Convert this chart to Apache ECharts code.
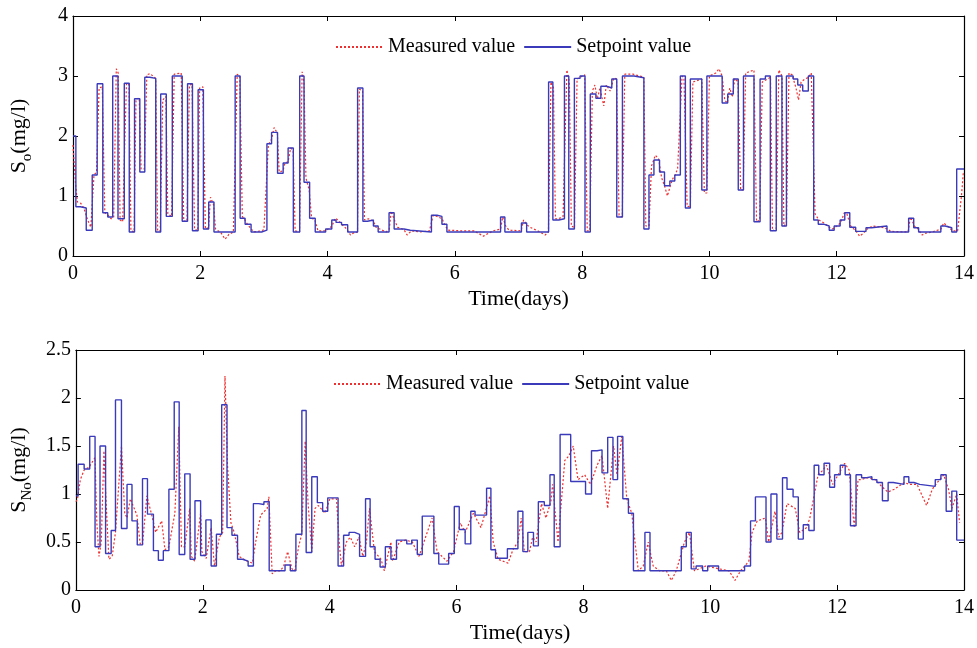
<!DOCTYPE html>
<html>
<head>
<meta charset="utf-8">
<title>So / SNo tracking</title>
<script src="https://cdn.jsdelivr.net/npm/echarts@6/dist/echarts.min.js"></script>
<style>
  html, body { margin: 0; padding: 0; background: #fff; }
  #chart { width: 977px; height: 648px; }
</style>
</head>
<body>
<div id="chart"></div>
<script>
// x ticks (days)
const dayTicks = [0, 2, 4, 6, 8, 10, 12, 14];

// S_o setpoint: [time (days), value] – value holds until next time
const soSet = [[0,2.0],[0.045,0.82],[0.115,0.80],[0.208,0.43],[0.302,1.35],[0.38,2.87],[0.468,0.72],[0.546,0.65],[0.624,3.0],[0.707,0.62],[0.806,2.88],[0.884,0.40],[0.967,2.62],[1.05,1.40],[1.128,2.98],[1.206,2.96],[1.30,0.40],[1.378,2.70],[1.466,0.66],[1.56,3.0],[1.716,0.58],[1.80,2.87],[1.877,0.42],[1.966,2.77],[2.049,0.45],[2.132,0.90],[2.215,0.40],[2.548,3.0],[2.626,0.63],[2.704,0.53],[2.798,0.40],[2.964,0.43],[3.047,1.87],[3.12,2.06],[3.214,1.38],[3.302,1.55],[3.38,1.80],[3.462,0.40],[3.562,3.0],[3.63,1.23],[3.718,0.63],[3.806,0.40],[3.97,0.45],[4.066,0.60],[4.133,0.56],[4.22,0.52],[4.316,0.40],[4.472,2.80],[4.555,0.58],[4.628,0.60],[4.72,0.50],[4.795,0.40],[4.966,0.72],[5.046,0.45],[5.20,0.43],[5.30,0.40],[5.632,0.68],[5.72,0.66],[5.797,0.53],[5.875,0.40],[6.718,0.65],[6.786,0.40],[7.046,0.55],[7.128,0.40],[7.473,2.90],[7.54,0.60],[7.633,0.62],[7.722,3.0],[7.79,0.45],[7.878,2.96],[7.967,3.0],[8.045,0.40],[8.128,2.70],[8.216,2.63],[8.294,2.83],[8.383,2.80],[8.466,2.95],[8.544,0.65],[8.633,3.0],[8.815,2.97],[8.97,0.45],[9.05,1.35],[9.128,1.60],[9.216,1.40],[9.294,1.17],[9.378,1.25],[9.456,1.35],[9.543,3.0],[9.622,0.80],[9.70,2.95],[9.88,1.10],[9.96,3.0],[10.2,2.55],[10.287,2.70],[10.375,2.95],[10.453,1.10],[10.535,3.0],[10.70,0.57],[10.796,2.95],[10.879,3.0],[10.957,0.42],[11.05,3.0],[11.139,0.50],[11.21,3.0],[11.316,2.95],[11.388,2.85],[11.466,2.75],[11.554,3.0],[11.638,0.60],[11.71,0.53],[11.794,0.50],[11.882,0.43],[11.96,0.50],[12.054,0.60],[12.127,0.72],[12.205,0.48],[12.298,0.41],[12.46,0.47],[12.548,0.50],[12.79,0.40],[13.13,0.63],[13.21,0.47],[13.287,0.40],[13.636,0.50],[13.704,0.47],[13.808,0.40],[13.885,1.45],[14.0,1.45]];

// S_o measured
const soMeas = [[0,1.85],[0.04,1.2],[0.07,0.9],[0.12,0.88],[0.17,0.8],[0.23,0.6],[0.28,0.48],[0.33,1.35],[0.37,1.4],[0.41,2.8],[0.46,2.82],[0.5,0.72],[0.55,0.68],[0.6,0.62],[0.64,0.65],[0.68,3.12],[0.71,3.05],[0.74,0.6],[0.78,0.57],[0.81,0.6],[0.84,2.88],[0.88,2.85],[0.91,0.42],[0.96,0.4],[0.99,2.62],[1.04,2.63],[1.07,1.45],[1.12,1.45],[1.16,3.02],[1.21,3.04],[1.3,2.96],[1.33,0.42],[1.37,0.42],[1.41,2.6],[1.46,2.66],[1.49,0.7],[1.55,0.66],[1.59,3.03],[1.7,3.05],[1.74,0.58],[1.79,0.58],[1.83,2.85],[1.87,2.86],[1.91,0.45],[1.96,0.42],[1.99,2.8],[2.04,2.82],[2.08,0.45],[2.13,0.47],[2.16,0.98],[2.21,0.85],[2.24,0.45],[2.28,0.42],[2.33,0.38],[2.39,0.28],[2.45,0.36],[2.52,0.4],[2.58,3.03],[2.62,3.0],[2.66,0.66],[2.7,0.6],[2.74,0.53],[2.8,0.45],[2.84,0.4],[2.96,0.42],[3.0,0.44],[3.07,1.85],[3.12,1.95],[3.16,2.14],[3.21,2.05],[3.24,1.4],[3.3,1.42],[3.33,1.55],[3.38,1.57],[3.42,1.8],[3.46,1.75],[3.49,0.42],[3.56,0.4],[3.6,3.07],[3.63,2.9],[3.66,1.3],[3.71,1.1],[3.75,0.63],[3.8,0.6],[3.85,0.42],[3.97,0.42],[4.0,0.45],[4.07,0.5],[4.12,0.63],[4.16,0.6],[4.22,0.53],[4.3,0.45],[4.36,0.35],[4.4,0.38],[4.47,0.4],[4.5,2.78],[4.55,2.75],[4.58,0.6],[4.64,0.62],[4.72,0.58],[4.76,0.48],[4.82,0.45],[4.92,0.4],[4.97,0.45],[5.0,0.75],[5.05,0.6],[5.1,0.48],[5.2,0.44],[5.25,0.35],[5.32,0.42],[5.45,0.4],[5.6,0.42],[5.66,0.68],[5.72,0.66],[5.8,0.62],[5.85,0.5],[5.9,0.43],[6.1,0.42],[6.3,0.42],[6.45,0.33],[6.6,0.42],[6.72,0.45],[6.75,0.65],[6.8,0.5],[6.85,0.43],[7.04,0.42],[7.08,0.6],[7.13,0.52],[7.18,0.48],[7.3,0.42],[7.42,0.35],[7.47,0.4],[7.51,2.9],[7.55,2.8],[7.58,0.62],[7.63,0.62],[7.7,0.66],[7.76,3.1],[7.8,2.9],[7.83,0.5],[7.88,0.47],[7.92,2.95],[8.04,3.02],[8.08,0.42],[8.12,0.42],[8.16,2.75],[8.2,2.85],[8.24,2.62],[8.28,2.8],[8.34,2.5],[8.38,2.85],[8.44,2.75],[8.5,2.97],[8.54,2.95],[8.58,0.68],[8.63,0.65],[8.67,3.03],[8.8,3.03],[8.97,2.98],[9.0,0.5],[9.05,0.5],[9.09,1.5],[9.15,1.68],[9.2,1.62],[9.25,1.3],[9.3,1.15],[9.34,1.0],[9.38,1.15],[9.42,1.28],[9.46,1.35],[9.5,1.45],[9.57,3.0],[9.6,2.95],[9.65,0.83],[9.7,0.82],[9.74,2.9],[9.88,2.95],[9.92,1.05],[9.96,1.05],[10.0,3.0],[10.1,3.05],[10.15,3.12],[10.2,3.0],[10.24,2.6],[10.28,2.55],[10.32,2.8],[10.36,2.65],[10.4,2.96],[10.45,2.9],[10.49,1.1],[10.53,1.1],[10.57,3.05],[10.7,3.1],[10.74,0.57],[10.79,0.6],[10.83,2.9],[10.96,2.98],[10.99,0.42],[11.05,0.45],[11.09,3.1],[11.14,3.0],[11.17,0.5],[11.21,0.55],[11.25,3.05],[11.3,3.02],[11.36,2.8],[11.4,2.6],[11.44,2.9],[11.5,2.95],[11.56,2.98],[11.6,3.05],[11.66,0.7],[11.72,0.6],[11.8,0.55],[11.88,0.48],[11.93,0.45],[11.98,0.48],[12.06,0.55],[12.12,0.72],[12.16,0.7],[12.22,0.5],[12.3,0.42],[12.36,0.33],[12.42,0.38],[12.48,0.45],[12.56,0.5],[12.7,0.48],[12.8,0.45],[12.85,0.41],[13.12,0.4],[13.16,0.65],[13.22,0.5],[13.28,0.45],[13.34,0.35],[13.4,0.38],[13.5,0.4],[13.64,0.45],[13.68,0.55],[13.74,0.5],[13.82,0.42],[13.9,0.42],[13.96,1.0],[13.99,1.4]];

// S_No setpoint
const snoSet = [[0,0.98],[0.035,1.31],[0.13,1.26],[0.218,1.60],[0.302,0.45],[0.38,1.50],[0.468,0.38],[0.556,0.62],[0.624,1.98],[0.718,0.64],[0.806,1.10],[0.884,0.72],[0.967,0.47],[1.05,1.16],[1.128,0.79],[1.222,0.41],[1.30,0.31],[1.378,0.41],[1.466,1.05],[1.55,1.96],[1.628,0.37],[1.716,1.21],[1.80,0.32],[1.877,0.93],[1.966,0.36],[2.049,0.73],[2.132,0.25],[2.215,0.58],[2.298,1.93],[2.382,0.65],[2.46,0.57],[2.548,0.32],[2.626,0.30],[2.715,0.25],[2.798,0.90],[2.881,0.89],[2.964,0.92],[3.047,0.20],[3.297,0.26],[3.38,0.20],[3.468,0.58],[3.562,1.87],[3.63,0.39],[3.718,1.18],[3.806,0.91],[3.89,0.82],[3.97,0.96],[4.133,0.25],[4.22,0.57],[4.306,0.60],[4.394,0.58],[4.472,0.35],[4.566,0.95],[4.638,0.45],[4.716,0.32],[4.795,0.24],[4.878,0.45],[4.966,0.32],[5.054,0.52],[5.216,0.48],[5.294,0.52],[5.382,0.37],[5.46,0.77],[5.643,0.38],[5.72,0.27],[5.876,0.38],[5.965,0.87],[6.043,0.63],[6.136,0.48],[6.225,0.82],[6.292,0.78],[6.474,1.06],[6.542,0.42],[6.615,0.33],[6.802,0.43],[6.968,0.82],[7.046,0.40],[7.124,0.60],[7.213,0.46],[7.29,0.92],[7.384,0.88],[7.473,1.20],[7.54,0.45],[7.633,1.62],[7.8,1.13],[8.034,1.00],[8.128,1.45],[8.216,1.46],[8.294,1.22],[8.383,1.59],[8.466,1.15],[8.539,1.60],[8.622,0.95],[8.71,0.80],[8.789,0.20],[8.97,0.60],[9.05,0.20],[9.543,0.45],[9.622,0.60],[9.70,0.22],[9.777,0.25],[9.88,0.20],[9.96,0.25],[10.131,0.20],[10.541,0.25],[10.635,0.72],[10.712,0.97],[10.879,0.50],[10.957,1.00],[11.05,0.53],[11.139,1.17],[11.21,1.05],[11.306,0.97],[11.388,0.53],[11.466,0.68],[11.554,0.62],[11.638,1.30],[11.71,1.20],[11.794,1.32],[11.882,1.07],[11.96,1.20],[12.049,1.30],[12.127,1.20],[12.21,0.67],[12.298,1.20],[12.386,1.17],[12.465,1.18],[12.548,1.15],[12.626,1.12],[12.714,0.93],[12.804,1.12],[12.886,1.10],[13.054,1.18],[13.13,1.12],[13.21,1.10],[13.302,1.08],[13.547,1.15],[13.636,1.20],[13.719,0.82],[13.808,1.03],[13.885,0.52],[14.0,0.52]];

// S_No measured
const snoMeas = [[0,0.92],[0.026,0.95],[0.07,1.15],[0.13,1.25],[0.208,1.28],[0.302,1.38],[0.33,0.7],[0.364,0.35],[0.4,0.5],[0.442,1.45],[0.47,1.0],[0.52,0.32],[0.572,0.35],[0.624,0.6],[0.718,1.5],[0.77,0.8],[0.806,0.75],[0.858,0.95],[0.962,0.78],[1.014,0.48],[1.05,0.47],[1.118,0.98],[1.196,0.78],[1.258,0.6],[1.352,0.72],[1.404,0.42],[1.466,0.45],[1.56,0.8],[1.622,1.7],[1.664,0.45],[1.716,0.45],[1.794,0.85],[1.82,0.35],[1.872,0.3],[1.966,0.8],[1.986,0.4],[2.054,0.33],[2.132,0.65],[2.184,0.25],[2.262,0.55],[2.314,0.6],[2.35,2.23],[2.39,1.3],[2.444,0.7],[2.496,0.6],[2.574,0.35],[2.704,0.3],[2.782,0.28],[2.834,0.5],[2.912,0.78],[3.016,0.85],[3.042,0.97],[3.094,0.17],[3.15,0.2],[3.224,0.2],[3.276,0.25],[3.338,0.4],[3.406,0.22],[3.45,0.2],[3.51,0.45],[3.56,0.58],[3.614,1.55],[3.66,0.9],[3.718,0.4],[3.77,0.85],[3.822,0.88],[3.926,0.8],[4.004,0.95],[4.108,0.95],[4.15,0.5],[4.186,0.25],[4.264,0.5],[4.327,0.55],[4.394,0.45],[4.462,0.55],[4.524,0.35],[4.58,0.5],[4.628,0.85],[4.706,0.4],[4.81,0.32],[4.862,0.2],[4.966,0.5],[4.992,0.3],[5.096,0.5],[5.2,0.52],[5.304,0.5],[5.408,0.35],[5.512,0.55],[5.616,0.75],[5.694,0.4],[5.85,0.3],[5.954,0.4],[6.058,0.7],[6.136,0.6],[6.266,0.8],[6.386,0.65],[6.526,0.98],[6.578,0.5],[6.656,0.32],[6.812,0.28],[6.89,0.42],[6.968,0.5],[7.02,0.75],[7.07,0.4],[7.15,0.4],[7.2,0.55],[7.254,0.5],[7.34,0.9],[7.41,0.75],[7.488,0.92],[7.514,1.1],[7.6,0.5],[7.707,1.35],[7.774,1.4],[7.84,1.5],[7.915,1.15],[8.02,1.2],[8.112,1.1],[8.216,1.3],[8.294,1.4],[8.383,0.85],[8.476,1.5],[8.53,1.2],[8.606,1.6],[8.684,0.95],[8.762,0.8],[8.866,0.2],[8.944,0.25],[9.022,0.5],[9.1,0.25],[9.2,0.2],[9.308,0.2],[9.386,0.1],[9.464,0.2],[9.594,0.5],[9.672,0.6],[9.75,0.2],[9.93,0.25],[10.14,0.22],[10.296,0.2],[10.39,0.1],[10.478,0.2],[10.608,0.3],[10.66,0.6],[10.74,0.72],[10.87,0.75],[10.92,0.5],[11.02,0.82],[11.08,0.55],[11.13,0.6],[11.21,0.9],[11.34,0.85],[11.41,0.6],[11.52,0.65],[11.57,0.75],[11.7,1.2],[11.78,1.25],[11.83,1.3],[11.93,1.1],[12.06,1.25],[12.12,1.32],[12.19,1.25],[12.27,0.65],[12.33,1.15],[12.39,1.15],[12.46,1.17],[12.6,1.15],[12.7,1.08],[12.8,1.02],[12.9,1.05],[13.06,1.12],[13.14,1.1],[13.26,1.1],[13.41,0.88],[13.5,1.05],[13.58,1.12],[13.68,1.2],[13.755,1.05],[13.81,0.85],[13.885,1.0],[13.93,0.7]];

var FONT = "'Liberation Serif', 'Times New Roman', serif";
var RED = '#f03030';
var BLUE = '#3a3abb';

var myChart = echarts.init(document.getElementById('chart'), null, { renderer: 'canvas' });

function xAx(grid, pos) {
    var bottom = pos === 'bottom';
    return {
        type: 'value', gridIndex: grid, position: pos,
        min: dayTicks[0], max: dayTicks[dayTicks.length - 1], interval: 2,
        axisLine: { show: true, onZero: false, lineStyle: { color: '#000', width: 1.2 } },
        axisTick: { show: true, inside: true, length: 5, lineStyle: { color: '#000' } },
        axisLabel: { show: bottom, color: '#000', fontFamily: FONT, fontSize: 20, margin: 8 },
        splitLine: { show: false },
        name: bottom ? 'Time(days)' : '',
        nameLocation: 'middle', nameGap: 32,
        nameTextStyle: { color: '#000', fontFamily: FONT, fontSize: 22 }
    };
}

function yAx(grid, pos, max, step, name) {
    var left = pos === 'left';
    return {
        type: 'value', gridIndex: grid, position: pos,
        min: 0, max: max, interval: step,
        axisLine: { show: true, onZero: false, lineStyle: { color: '#000', width: 1.2 } },
        axisTick: { show: true, inside: true, length: 5, lineStyle: { color: '#000' } },
        axisLabel: { show: left, color: '#000', fontFamily: FONT, fontSize: 20, margin: 5 },
        splitLine: { show: false },
        name: left ? name : '',
        nameLocation: 'middle', nameRotate: 90, nameGap: 38,
        nameTextStyle: {
            color: '#000', fontFamily: FONT,
            rich: {
                a: { fontSize: 22, fontFamily: FONT, color: '#000', verticalAlign: 'middle' },
                b: { fontSize: 15, fontFamily: FONT, color: '#000', verticalAlign: 'bottom', lineHeight: 32 }
            }
        }
    };
}

function legendAt(left, top) {
    return {
        left: left, top: top, padding: 0, itemGap: 8,
        itemWidth: 47, itemHeight: 14,
        data: ['Measured value', 'Setpoint value'],
        // line only, no marker in the middle
        itemStyle: { opacity: 0 },
        textStyle: { color: '#000', fontFamily: FONT, fontSize: 20 }
    };
}

function measured(xi, yi, data) {
    return {
        name: 'Measured value', type: 'line', xAxisIndex: xi, yAxisIndex: yi,
        data: data, symbol: 'none', showSymbol: false,
        lineStyle: { color: RED, width: 1.2, type: [2, 2] },
        itemStyle: { color: RED }
    };
}

function setpoint(xi, yi, data) {
    return {
        name: 'Setpoint value', type: 'line', step: 'end', xAxisIndex: xi, yAxisIndex: yi,
        data: data, symbol: 'none', showSymbol: false,
        lineStyle: { color: BLUE, width: 1.4 },
        itemStyle: { color: BLUE }
    };
}

var option = {
    animation: false,
    backgroundColor: '#fff',
    grid: [
        { left: 70, right: 10, top: 16, height: 240 },
        { left: 70, right: 10, top: 350, height: 240 }
    ],
    legend: [legendAt(335, 37), legendAt(333, 374)],
    xAxis: [xAx(0, 'bottom'), xAx(0, 'top'), xAx(1, 'bottom'), xAx(1, 'top')],
    yAxis: [
        yAx(0, 'left', 4, 1, '{a|S}{b|o}{a|(mg/l)}'),
        yAx(0, 'right', 4, 1, ''),
        yAx(1, 'left', 2.5, 0.5, '{a|S}{b|No}{a|(mg/l)}'),
        yAx(1, 'right', 2.5, 0.5, '')
    ],
    series: [
        measured(0, 0, soMeas),
        setpoint(0, 0, soSet),
        measured(2, 2, snoMeas),
        setpoint(2, 2, snoSet)
    ]
};

myChart.setOption(option);
window.addEventListener("resize", function () {
    myChart.resize();
});
</script>
</body>
</html>
